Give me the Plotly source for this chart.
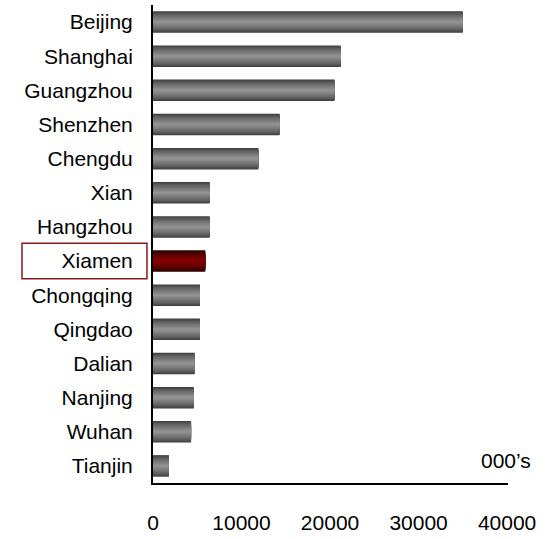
import plotly.graph_objects as go

# City values, in thousands
cities = ["Beijing", "Shanghai", "Guangzhou", "Shenzhen", "Chengdu", "Xian",
          "Hangzhou", "Xiamen", "Chongqing", "Qingdao", "Dalian", "Nanjing",
          "Wuhan", "Tianjin"]
values = [35000, 21200, 20500, 14300, 11900, 6400, 6400, 5900, 5300, 5300,
          4700, 4600, 4300, 1800]
highlight = "Xiamen"
x_ticks = [0, 10000, 20000, 30000, 40000]
unit_label = "000\u2019s"

FONT = "Liberation Sans"
FONT_SIZE = 21
BAR_WIDTH = 0.63
LAYERS = 14


def mix(c1, c2, t):
    return "rgb({},{},{})".format(*[round(a + (b - a) * t) for a, b in zip(c1, c2)])


gray_edge, gray_mid = (60, 60, 60), (145, 145, 145)
red_edge, red_mid = (40, 0, 0), (132, 0, 0)

fig = go.Figure()
# Overlaid bars of shrinking thickness give a cylinder-like shading
for k in range(LAYERS):
    t = k / (LAYERS - 1)
    shade = t ** 0.7
    w = BAR_WIDTH * (1 - k / LAYERS)
    colors = [mix(red_edge, red_mid, shade) if c == highlight else mix(gray_edge, gray_mid, shade)
              for c in cities]
    fig.add_trace(go.Bar(
        x=values, y=cities, orientation="h", width=w,
        marker=dict(color=colors, line=dict(width=0)),
        hoverinfo="x+y" if k == 0 else "skip", showlegend=False,
    ))

hi_idx = cities.index(highlight)
fig.add_shape(type="rect", xref="paper", yref="y",
              x0=-0.369, x1=-0.017, y0=hi_idx - 0.52, y1=hi_idx + 0.52,
              line=dict(color="#8b1a1a", width=1.5), fillcolor="rgba(0,0,0,0)")

fig.add_annotation(text=unit_label, xref="paper", yref="paper", x=1.07, y=0.047,
                   xanchor="right", yanchor="middle", showarrow=False,
                   font=dict(family=FONT, size=FONT_SIZE, color="black"))

fig.update_layout(
    width=547, height=539,
    margin=dict(l=153, r=39, t=5, b=48),
    paper_bgcolor="white", plot_bgcolor="white",
    barmode="overlay",
    font=dict(family=FONT, size=FONT_SIZE, color="black"),
    xaxis=dict(range=[0, 40100], tickvals=x_ticks, ticktext=[str(v) for v in x_ticks],
               showgrid=False, zeroline=False, showline=True, linecolor="black",
               linewidth=1.5, ticks="", ticklabelstandoff=20, fixedrange=True),
    yaxis=dict(categoryorder="array", categoryarray=cities, autorange="reversed",
               showgrid=False, zeroline=False, showline=True, linecolor="black",
               linewidth=2, ticks="", ticklabelstandoff=14, fixedrange=True),
)

fig.write_html("out.html")
